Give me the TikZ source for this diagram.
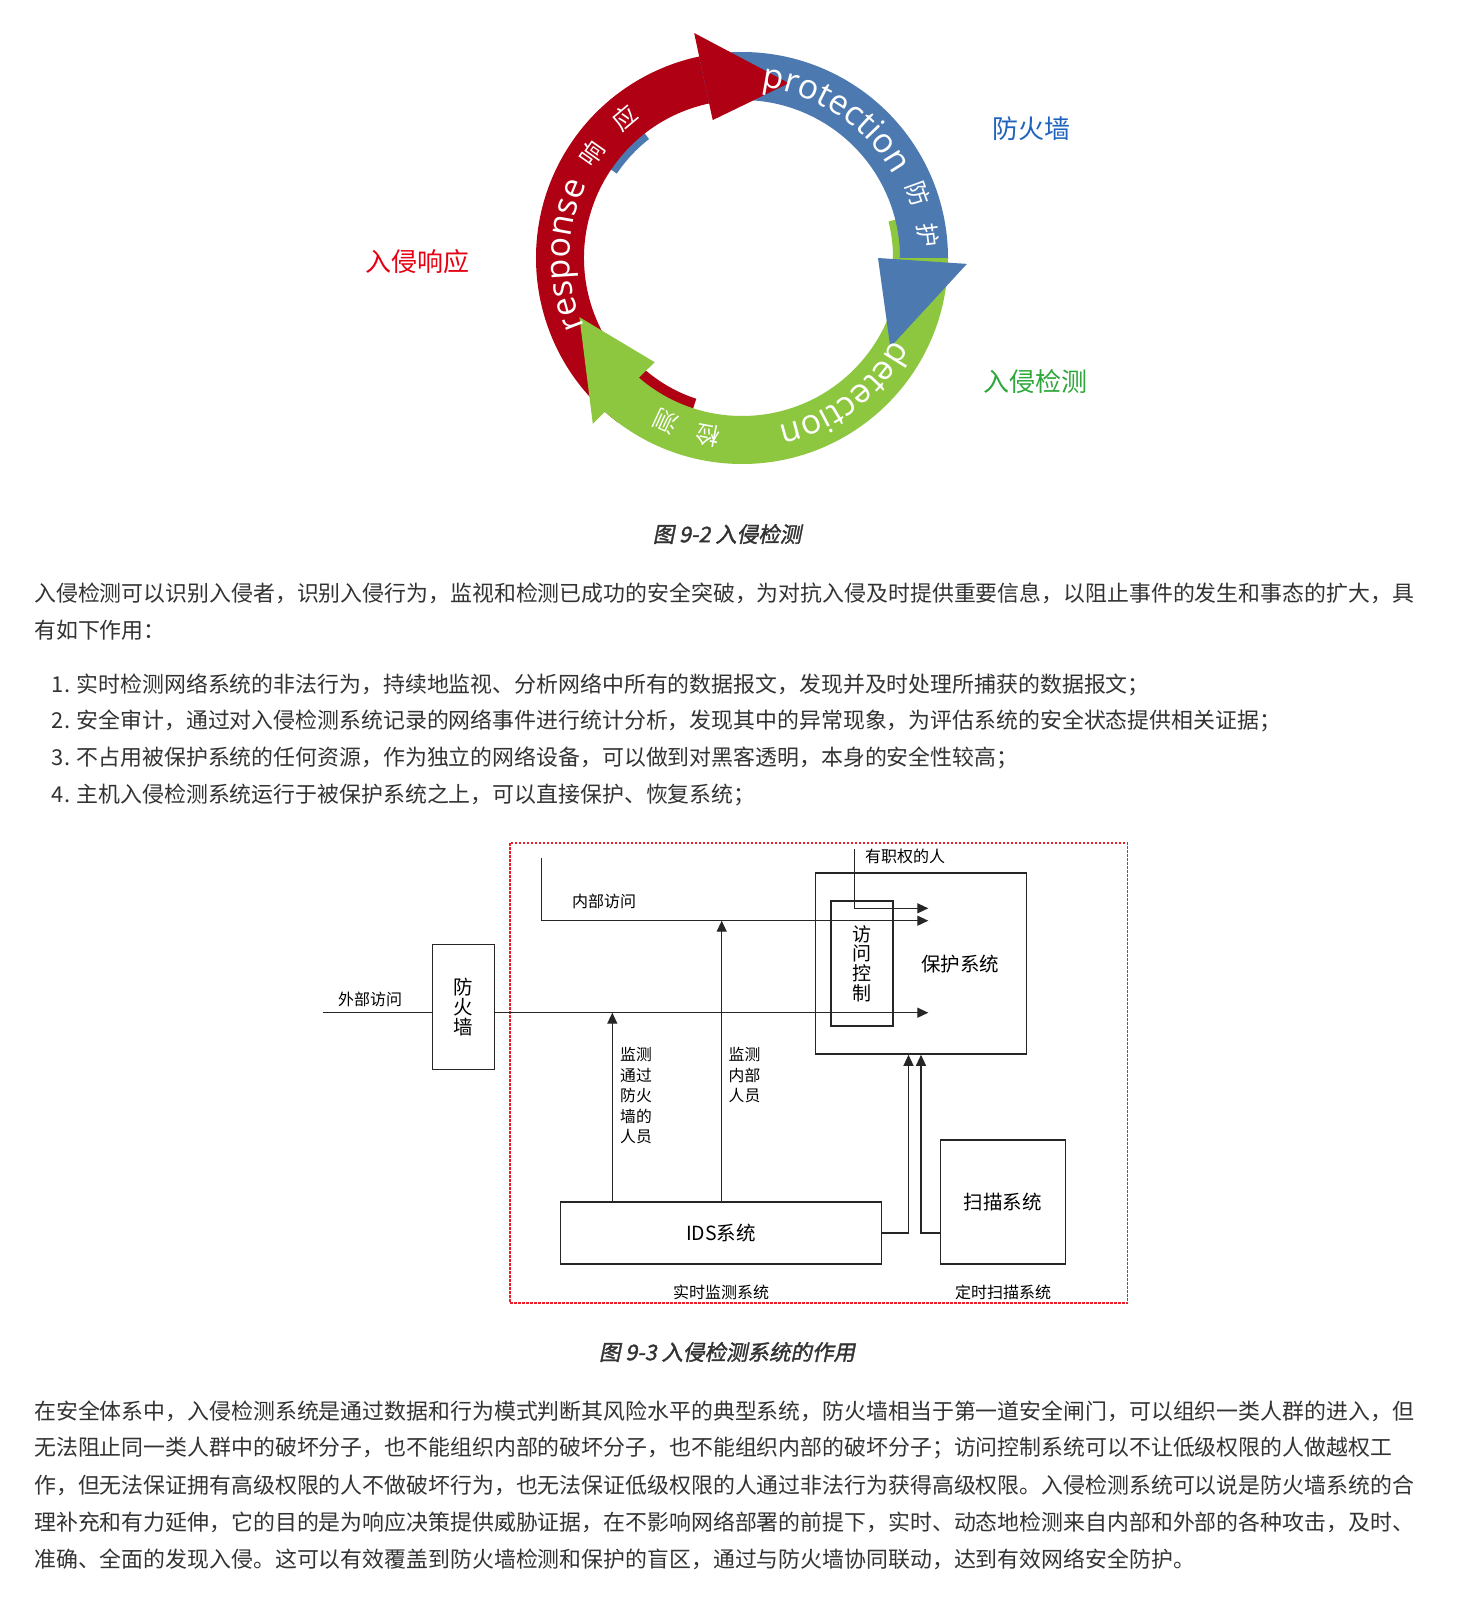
\documentclass[tikz,border=0pt]{standalone}
\usepackage{fontspec}
\setmainfont{Noto Sans CJK SC}
\newfontfamily\ringlat{Open Sans}
\newfontfamily\capfont[FakeSlant=0.2,FakeBold=1.5]{Noto Sans CJK SC}
\usetikzlibrary{arrows.meta,decorations.text}
\definecolor{ringred}{HTML}{B00014}
\definecolor{ringblue}{HTML}{4C7AB0}
\definecolor{ringgreen}{HTML}{8DC63F}
\definecolor{labred}{HTML}{E60012}
\definecolor{labblue}{HTML}{1F63BE}
\definecolor{labgreen}{HTML}{2EA83A}
\definecolor{bodygray}{HTML}{333333}
\definecolor{dashred}{HTML}{E8202A}
\newcommand\ringtxt{\ringlat\fontsize{34}{34}\selectfont}
% band of the ring: colour, from angle, to angle, inner r, outer r
\newcommand\band[5]{\fill[#1] (#2:#5) arc[start angle=#2, end angle=#3, radius=#5] -- (#3:#4) arc[start angle=#3, end angle=#2, radius=#4] -- cycle;}

\begin{document}
\begin{tikzpicture}[x=1pt,y=1pt]
  \tikzstyle{every node}=[inner sep=0pt]
  \tikzstyle{body}=[anchor=west, text=bodygray, font=\fontsize{21.9}{22}\selectfont]
  \tikzstyle{caption}=[text=bodygray, font=\capfont\fontsize{21.5}{22}\selectfont]
  \tikzstyle{ringchar}=[text=white, font=\fontsize{24}{24}\selectfont]
  \tikzstyle{sidelabel}=[font=\fontsize{26}{26}\selectfont]
  \tikzstyle{box}=[draw=black!85, line width=1.6pt]
  \tikzstyle{small}=[font=\fontsize{16}{16}\selectfont]
  \tikzstyle{mid}=[font=\fontsize{19.5}{20}\selectfont]
  \tikzstyle{stack}=[align=center, font=\fontsize{19.5}{20}\selectfont]
  \tikzstyle{note}=[align=left, font=\fontsize{15.8}{20.5}\selectfont]
  \tikzstyle{wire}=[line width=1.3pt, draw=black!85]
  \tikzstyle{flow}=[wire, -{Triangle[length=11pt,width=10pt]}]

  \useasboundingbox (0,0) rectangle (1474,-1622);
  \fill[white] (0,0) rectangle (1474,-1622);

  % ring
  \begin{scope}[shift={(742,-258)}]
    \band{ringblue}{146}{128}{151}{162}
    \band{ringgreen}{14}{-3}{151}{162}
    \band{ringred}{252}{227}{148}{162}
    \band{ringred}{233}{101}{158}{206}
    \band{ringblue}{102}{-3}{158}{206}
    \band{ringgreen}{0}{-133}{158}{206}
    \fill[ringred] (102:141) -- (102:230) -- (75:181) -- cycle;
    \fill[ringblue] (0:136) -- (-1.5:225) -- (-31:173) -- cycle;
    \fill[ringgreen] (230:136) -- (228:223) -- (200:173) -- cycle;
    \path[decorate, decoration={text along path, text={|\ringtxt|protection}, text align=center, text color=white}]
      (92:172) arc[start angle=92, end angle=20, radius=172];
    \path[decorate, decoration={text along path, text={|\ringtxt|response}, text align=center, text color=white}]
      (215:172) arc[start angle=215, end angle=143, radius=172];
    \path[decorate, decoration={text along path, text={|\ringtxt|detection}, text align=center, text color=white}]
      (-17:172) arc[start angle=-17, end angle=-89, radius=172];
    \node[ringchar, rotate=55] (xiang) at (145:183) {响};
    \node[ringchar, rotate=40] (ying) at (130:183) {应};
    \node[ringchar, rotate=-70] (fang) at (20:187) {防};
    \node[ringchar, rotate=-83] (hu) at (7:187) {护};
    \node[ringchar, rotate=169] (jian) at (259:181) {检};
    \node[ringchar, rotate=155] (ce) at (245:181) {测};
  \end{scope}
  \node[sidelabel, text=labblue] (fwlbl) at (1031,-129) {防火墙};
  \node[sidelabel, text=labred] (resplbl) at (417,-262) {入侵响应};
  \node[sidelabel, text=labgreen] (detlbl) at (1035,-382) {入侵检测};
  \node[caption] (cap1) at (727,-534) {图 9-2 入侵检测};

  % text above
  \node[body] (p1a) at (34,-593) {入侵检测可以识别入侵者，识别入侵行为，监视和检测已成功的安全突破，为对抗入侵及时提供重要信息，以阻止事件的发生和事态的扩大，具};
  \node[body] (p1b) at (34,-630) {有如下作用：};
  \node[body] (li1) at (51.7,-685) {1. 实时检测网络系统的非法行为，持续地监视、分析网络中所有的数据报文，发现并及时处理所捕获的数据报文；};
  \node[body] (li2) at (51.7,-721) {2. 安全审计，通过对入侵检测系统记录的网络事件进行统计分析，发现其中的异常现象，为评估系统的安全状态提供相关证据；};
  \node[body] (li3) at (51.7,-758) {3. 不占用被保护系统的任何资源，作为独立的网络设备，可以做到对黑客透明，本身的安全性较高；};
  \node[body] (li4) at (51.7,-794.5) {4. 主机入侵检测系统运行于被保护系统之上，可以直接保护、恢复系统；};

  % ids figure
  \draw[dashred, line width=1.3pt, dash pattern=on 2.5pt off 1.5pt] (510,-843) rectangle (1127.5,-1303);
  \node[box, minimum width=62pt, minimum height=125pt, stack] (fwall) at (463.5,-1007) {防\\火\\墙};
  \node[box, minimum width=211pt, minimum height=181pt] (prot) at (921,-963.5) {};
  \node[mid] (protlbl) at (960,-964) {保护系统};
  \node[box, minimum width=62pt, minimum height=125pt, align=center, font=\fontsize{19}{19.7}\selectfont] (acc) at (862.2,-963.5) {访\\问\\控\\制};
  \node[box, minimum width=320.7pt, minimum height=62pt, mid] (ids) at (721,-1233) {IDS系统};
  \node[box, minimum width=125pt, minimum height=124pt, mid] (scan) at (1002.9,-1202) {扫描系统};

  \coordinate (inTop) at (541.7,-858);
  \coordinate (inEnd) at (928.3,-920.7);
  \coordinate (authTop) at (854.3,-849);
  \coordinate (authEnd) at (928.3,-908.3);
  \coordinate (extStart) at (322.7,-1012.7);
  \coordinate (extEnd) at (928.3,-1012.7);
  \coordinate (monA) at (612.3,-1012.7);
  \coordinate (monB) at (721.7,-920.7);

  \draw[flow] (inTop) |- (inEnd);
  \draw[flow] (authTop) |- (authEnd);
  \draw[wire] (extStart) -- (extStart -| fwall.west);
  \draw[flow] (extStart -| fwall.east) -- (extEnd);
  \draw[flow] (monA |- ids.north) -- (monA);
  \draw[flow] (monB |- ids.north) -- (monB);
  \draw[flow] (ids.east) -| ([xshift=-12.5pt]prot.south);
  \draw[flow] ([yshift=-31pt]scan.west) -| (prot.south);

  \node[small] (inlbl) at (604,-901.7) {内部访问};
  \node[small] (extlbl) at (370,-999.3) {外部访问};
  \node[small] (authlbl) at (905,-856) {有职权的人};
  \node[note] (monAlbl) at (636,-1096) {监测\\通过\\防火\\墙的\\人员};
  \node[note] (monBlbl) at (744.5,-1075.5) {监测\\内部\\人员};
  \node[small] (rtlbl) at (721,-1292) {实时监测系统};
  \node[small] (dslbl) at (1003,-1292) {定时扫描系统};
  \node[caption] (cap2) at (727,-1352) {图 9-3 入侵检测系统的作用};

  % text below
  \node[body] (p2a) at (34,-1411) {在安全体系中，入侵检测系统是通过数据和行为模式判断其风险水平的典型系统，防火墙相当于第一道安全闸门，可以组织一类人群的进入，但};
  \node[body] (p2b) at (34,-1448) {无法阻止同一类人群中的破坏分子，也不能组织内部的破坏分子，也不能组织内部的破坏分子；访问控制系统可以不让低级权限的人做越权工};
  \node[body] (p2c) at (34,-1485) {作，但无法保证拥有高级权限的人不做破坏行为，也无法保证低级权限的人通过非法行为获得高级权限。入侵检测系统可以说是防火墙系统的合};
  \node[body] (p2d) at (34,-1522) {理补充和有力延伸，它的目的是为响应决策提供威胁证据，在不影响网络部署的前提下，实时、动态地检测来自内部和外部的各种攻击，及时、};
  \node[body] (p2e) at (34,-1559) {准确、全面的发现入侵。这可以有效覆盖到防火墙检测和保护的盲区，通过与防火墙协同联动，达到有效网络安全防护。};
\end{tikzpicture}
\end{document}
